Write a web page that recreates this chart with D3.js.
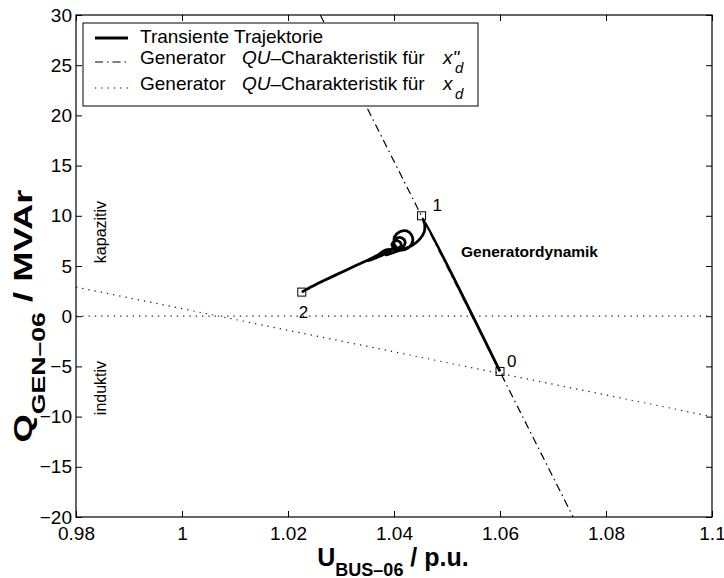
<!doctype html>
<html>
  <head>
    <meta charset="utf-8">
    <style>
      body { margin: 0; background: white; }
      svg { font-family: 'Liberation Sans', Arial, sans-serif; }
      .axis text { font-size: 19px; fill: black; }
      .axis line { stroke: black; }
      .axis path { display: none; }
    </style>
    <script src="https://d3js.org/d3.v7.min.js"></script>
  </head>
  <body>
    <svg width="724" height="578"></svg>
    <script>
      // ticks
      var xTicks = [0.98, 1.00, 1.02, 1.04, 1.06, 1.08, 1.10];
      var yTicks = [-20, -15, -10, -5, 0, 5, 10, 15, 20, 25, 30];

      // transient trajectory, U in p.u., Q in MVAr
      var trajU = [1.0600, 1.0455, 1.0458, 1.0457, 1.0449, 1.0436, 1.0419, 1.0402, 1.0385,
                   1.0399, 1.0401, 1.0411, 1.0424, 1.0433, 1.0435, 1.0427, 1.0413, 1.0402,
                   1.0400, 1.0406, 1.0415, 1.0421, 1.0417, 1.0406,
                   1.0396, 1.0402, 1.0411, 1.0413, 1.0404,
                   1.0391, 1.0370, 1.0385, 1.0396, 1.0374, 1.0351, 1.0366, 1.0381,
                   1.0355, 1.0326, 1.0298, 1.0270, 1.0247, 1.0226];
      var trajQ = [-5.5, 9.7, 9.1, 8.4, 7.7, 7.1, 6.7, 6.4, 6.1,
                   6.9, 7.9, 8.4, 8.5, 8.1, 7.4, 6.8, 6.6, 7.0,
                   7.4, 7.8, 7.8, 7.4, 6.9, 6.7,
                   7.1, 7.5, 7.4, 7.0, 6.7,
                   6.6, 6.1, 6.6, 6.6, 6.0, 5.5, 6.0, 6.3,
                   5.7, 5.0, 4.3, 3.6, 3.0, 2.4];

      // QU characteristics of the generator
      var xddU = [1.0261, 1.0738], xddQ = [30, -20];   // x''_d
      var xdU = [0.98, 1.10], xdQ = [2.9, -10.0];       // x_d
      var zeroU = [0.98, 1.10], zeroQ = [0, 0];

      // operating points 0, 1, 2
      var ptLabel = ["0", "1", "2"];
      var ptU = [1.0600, 1.0452, 1.0226];
      var ptQ = [-5.5, 10.0, 2.4];

      var svg = d3.select("svg");
      var padLeft = 76, padTop = 15, width = 636, height = 502;

      var x = d3.scaleLinear().domain([0.98, 1.1]).range([padLeft, padLeft + width]);
      var y = d3.scaleLinear().domain([-20, 30]).range([padTop + height, padTop]);

      svg.append("rect").attr("width", 724).attr("height", 578).attr("fill", "white");

      svg.append("defs").append("clipPath").attr("id", "plotclip")
        .append("rect").attr("x", padLeft).attr("y", padTop).attr("width", width).attr("height", height);

      var fmtX = function(d){ return String(+d.toFixed(2)); };

      svg.append("g").attr("class", "axis")
        .attr("transform", "translate(0," + (padTop + height) + ")")
        .call(d3.axisBottom(x).tickValues(xTicks).tickFormat(fmtX).tickSizeInner(-6).tickSizeOuter(0).tickPadding(10));
      svg.append("g").attr("class", "axis")
        .attr("transform", "translate(0," + padTop + ")")
        .call(d3.axisTop(x).tickValues(xTicks).tickFormat("").tickSizeInner(-6).tickSizeOuter(0));
      svg.append("g").attr("class", "axis")
        .attr("transform", "translate(" + padLeft + ",0)")
        .call(d3.axisLeft(y).tickValues(yTicks).tickSizeInner(-6).tickSizeOuter(0).tickPadding(4));
      svg.append("g").attr("class", "axis")
        .attr("transform", "translate(" + (padLeft + width) + ",0)")
        .call(d3.axisRight(y).tickValues(yTicks).tickFormat("").tickSizeInner(-6).tickSizeOuter(0));

      var line = d3.line().x(function(d){ return x(d[0]); }).y(function(d){ return y(d[1]); });
      var plot = svg.append("g").attr("clip-path", "url(#plotclip)");

      plot.append("path").datum(d3.zip(zeroU, zeroQ)).attr("d", line)
        .attr("fill", "none").attr("stroke", "#222").attr("stroke-width", 1.2).attr("stroke-dasharray", "1.3,5");
      plot.append("path").datum(d3.zip(xdU, xdQ)).attr("d", line)
        .attr("fill", "none").attr("stroke", "#222").attr("stroke-width", 1.2).attr("stroke-dasharray", "1.3,5");
      plot.append("path").datum(d3.zip(xddU, xddQ)).attr("d", line)
        .attr("fill", "none").attr("stroke", "black").attr("stroke-width", 1.2).attr("stroke-dasharray", "8,4,1.5,4");
      plot.append("path").datum(d3.zip(trajU, trajQ)).attr("d", line.curve(d3.curveCatmullRom))
        .attr("fill", "none").attr("stroke", "black").attr("stroke-width", 2.8).attr("stroke-linejoin", "round");

      // markers and their numbers
      plot.selectAll(".pt").data(d3.range(ptU.length)).enter().append("rect")
        .attr("x", function(i){ return x(ptU[i]) - 4; })
        .attr("y", function(i){ return y(ptQ[i]) - 4; })
        .attr("width", 8).attr("height", 8)
        .attr("fill", "none").attr("stroke", "black").attr("stroke-width", 1);
      var ptDx = [7, 11, -3], ptDy = [-4, -5, 26];
      svg.selectAll(".ptlabel").data(d3.range(ptU.length)).enter().append("text")
        .attr("x", function(i){ return x(ptU[i]) + ptDx[i]; })
        .attr("y", function(i){ return y(ptQ[i]) + ptDy[i]; })
        .attr("font-size", 17).text(function(i){ return ptLabel[i]; });

      // frame
      svg.append("rect").attr("x", padLeft).attr("y", padTop).attr("width", width).attr("height", height)
        .attr("fill", "none").attr("stroke", "black").attr("stroke-width", 1.2);

      // annotations
      svg.append("text").attr("x", 461).attr("y", 257).attr("font-size", 15.5).attr("font-weight", "bold")
        .text("Generatordynamik");
      svg.append("text").attr("transform", "translate(106,232) rotate(-90)").attr("text-anchor", "middle")
        .attr("font-size", 16).text("kapazitiv");
      svg.append("text").attr("transform", "translate(106,388) rotate(-90)").attr("text-anchor", "middle")
        .attr("font-size", 16).text("induktiv");

      // axis titles
      var xl = svg.append("text").attr("x", 393).attr("y", 566).attr("text-anchor", "middle")
        .attr("font-weight", "bold").attr("font-size", 25);
      xl.append("tspan").text("U");
      xl.append("tspan").attr("font-size", 18).attr("dy", 10).text("BUS–06");
      xl.append("tspan").attr("dy", -10).text(" / p.u.");

      var yl = svg.append("text").attr("transform", "translate(32,316) rotate(-90) scale(1.4,1)")
        .attr("text-anchor", "middle").attr("font-weight", "bold").attr("font-size", 26);
      yl.append("tspan").text("Q");
      yl.append("tspan").attr("font-size", 19).attr("dy", 13).text("GEN–06");
      yl.append("tspan").attr("dy", -13).text(" / MVAr");

      // legend
      var lg = svg.append("g");
      lg.append("rect").attr("x", 83).attr("y", 23).attr("width", 395).attr("height", 83)
        .attr("fill", "white").attr("stroke", "black").attr("stroke-width", 1);
      var rowY = [38, 62, 88];
      var rowDash = [null, "8,4,1.5,4", "1.3,5"];
      var rowWidth = [2.8, 1.2, 1.2];
      rowY.forEach(function(ry, i){
        var l = lg.append("line").attr("x1", 95).attr("x2", 128).attr("y1", ry).attr("y2", ry)
          .attr("stroke", "black").attr("stroke-width", rowWidth[i]);
        if (rowDash[i]) l.attr("stroke-dasharray", rowDash[i]);
      });
      lg.append("text").attr("x", 140).attr("y", 43).attr("font-size", 19).text("Transiente Trajektorie");
      var sub = ['x"', "x"];
      [64, 90].forEach(function(by, i){
        var t = lg.append("text").attr("y", by).attr("font-size", 19);
        t.append("tspan").attr("x", 140).text("Generator");
        t.append("tspan").attr("x", 242).attr("font-style", "italic").text("QU");
        t.append("tspan").text("–Charakteristik für");
        t.append("tspan").attr("x", 443).attr("font-style", "italic").text(sub[i]);
        t.append("tspan").attr("x", 455).attr("dy", 9).attr("font-size", 15).attr("font-style", "italic").text("d");
      });
    </script>
  </body>
</html>
